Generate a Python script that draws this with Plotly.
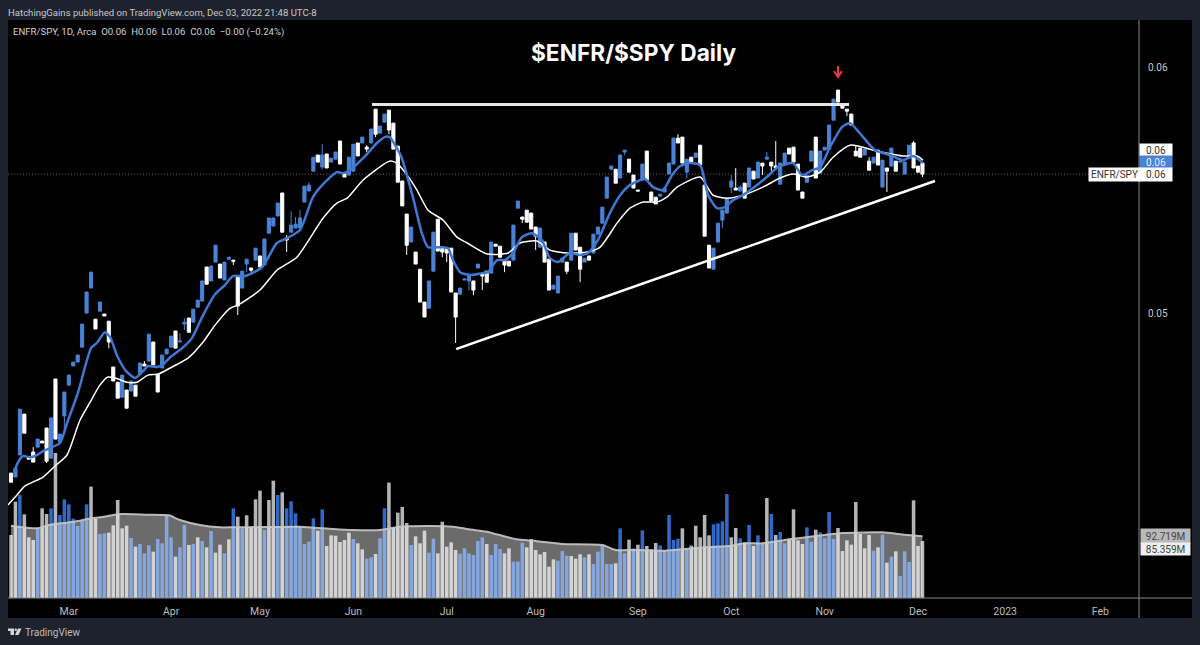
import plotly.graph_objects as go

# ENFR/SPY daily ratio, Feb 2022 to Dec 2022. Ratios are stored in units of 1e-5.
opens = [
    4347, 4331, 4421, 4588, 4412, 4433, 4453, 4478, 4531, 4408,
    4731, 4474, 4580, 4706, 4784, 4800, 4861, 5000, 5102, 4975,
    5008, 4996, 4967, 4780, 4718, 4657, 4686, 4682, 4706, 4751,
    4792, 4804, 4882, 4751, 4776, 4833, 4861, 4927, 4882, 4955,
    4980, 4963, 5024, 5049, 5188, 5131, 5208, 5200, 5135, 5220,
    5216, 5151, 5102, 5200, 5184, 5216, 5233, 5196, 5326, 5355,
    5396, 5490, 5306, 5330, 5347, 5347, 5453, 5498, 5579, 5645,
    5596, 5649, 5616, 5628, 5702, 5571, 5563, 5579, 5694, 5694,
    5677, 5694, 5832, 5734, 5779, 5828, 5775, 5681, 5539, 5404,
    5290, 5249, 5179, 5045, 5020, 5171, 5383, 5269, 5265, 5265,
    5082, 5077, 5135, 5131, 5131, 5184, 5159, 5171, 5163, 5281,
    5273, 5216, 5212, 5216, 5428, 5392, 5420, 5408, 5351, 5269,
    5290, 5220, 5098, 5082, 5208, 5208, 5216, 5326, 5269, 5208,
    5233, 5245, 5322, 5367, 5469, 5587, 5587, 5551, 5657, 5628,
    5563, 5502, 5543, 5661, 5494, 5473, 5477, 5494, 5567, 5608,
    5714, 5718, 5575, 5636, 5636, 5685, 5522, 5277, 5179, 5290,
    5379, 5408, 5514, 5510, 5498, 5530, 5514, 5579, 5551, 5612,
    5628, 5616, 5600, 5526, 5604, 5673, 5677, 5608, 5494, 5534,
    5620, 5718, 5571, 5665, 5669, 5787, 5910, 5845, 5832, 5812,
    5661, 5673, 5645, 5620, 5612, 5665, 5514, 5592, 5600, 5620,
    5616, 5567, 5632, 5694, 5600, 5612,
]
closes = [
    4310, 4368, 4608, 4510, 4404, 4392, 4486, 4470, 4396, 4572,
    4486, 4506, 4678, 4747, 4800, 4829, 4955, 5086, 5167, 4935,
    5045, 4988, 4882, 4723, 4653, 4747, 4612, 4723, 4661, 4796,
    4784, 4914, 4788, 4678, 4829, 4853, 4906, 4857, 4886, 4963,
    4922, 5016, 5053, 5131, 5118, 5192, 5277, 5143, 5208, 5228,
    5212, 5029, 5171, 5220, 5175, 5265, 5188, 5302, 5388, 5388,
    5449, 5330, 5298, 5359, 5363, 5388, 5518, 5522, 5636, 5616,
    5645, 5592, 5632, 5657, 5608, 5555, 5636, 5689, 5641, 5718,
    5669, 5751, 5730, 5763, 5812, 5747, 5669, 5534, 5437, 5277,
    5351, 5200, 5045, 4984, 5131, 5330, 5253, 5249, 5245, 5086,
    4984, 5102, 5139, 5159, 5094, 5200, 5151, 5126, 5290, 5273,
    5228, 5196, 5192, 5359, 5457, 5383, 5371, 5343, 5314, 5347,
    5208, 5094, 5114, 5151, 5224, 5171, 5326, 5257, 5179, 5224,
    5216, 5322, 5351, 5432, 5555, 5600, 5530, 5645, 5665, 5575,
    5510, 5498, 5608, 5543, 5457, 5445, 5485, 5510, 5612, 5714,
    5694, 5612, 5628, 5612, 5653, 5604, 5314, 5184, 5265, 5367,
    5420, 5469, 5539, 5502, 5514, 5469, 5592, 5547, 5616, 5600,
    5636, 5600, 5592, 5612, 5653, 5649, 5616, 5502, 5469, 5563,
    5661, 5551, 5661, 5677, 5767, 5873, 5861, 5836, 5824, 5767,
    5641, 5636, 5669, 5583, 5636, 5604, 5624, 5579, 5673, 5579,
    5620, 5616, 5685, 5592, 5575, 5567,
]
# Sessions whose wick reaches beyond the candle body.
upper_wicks = {5: 4453, 30: 4804, 38: 4918, 39: 4980, 62: 5318, 63: 5416, 64: 5392,
               65: 5420, 67: 5534, 70: 5689, 80: 5685, 150: 5730, 162: 5563, 163: 5592,
               164: 5522, 170: 5657, 172: 5702, 187: 5857, 190: 5681, 193: 5636, 203: 5702}
lower_wicks = {8: 4388, 12: 4523, 22: 4857, 39: 4931, 50: 5196, 51: 4992, 53: 5167,
               54: 5155, 62: 5249, 70: 5587, 80: 5657, 82: 5718, 85: 5730, 89: 5237,
               97: 5228, 98: 5208, 100: 4878, 103: 5094, 104: 5073, 106: 5094, 111: 5167,
               115: 5367, 118: 5257, 125: 5159, 128: 5126, 138: 5645, 152: 5551, 160: 5347,
               162: 5490, 169: 5563, 171: 5579, 172: 5583, 188: 5804, 197: 5494, 205: 5555}

# Daily volume in millions and its bar colour: b = blue, g = grey.
volumes = [
    94.5, 144.5, 154.5, 125.5, 91, 87, 104.5, 134.5, 126, 134.5,
    217.5, 124.5, 148, 140.5, 119, 108, 115.5, 140.5, 167, 119,
    96, 97, 98, 109, 147, 104.5, 108.5, 90, 77, 81,
    67, 79, 69.5, 88.5, 82, 124, 91, 62, 76, 109.5,
    79.5, 81, 91, 85.5, 76, 100.5, 68, 80, 67, 88,
    134.5, 122, 104.5, 124, 107, 148, 161, 102, 147, 176,
    154.5, 158.5, 134.5, 145, 127, 107, 81, 84.5, 119.5, 101,
    133, 78, 94, 93.5, 84, 87, 98, 88.5, 82, 73,
    59, 61, 66, 89.5, 134.5, 173, 105.5, 128, 136.5, 112.5,
    79.5, 92.5, 82, 101, 68, 89, 67, 114.5, 77, 83.5,
    72, 66.5, 74.5, 67, 64.5, 85.5, 91, 81, 64.5, 81,
    73.5, 67, 74.5, 54.5, 54.5, 83, 76, 88.5, 72, 65.5,
    69, 47, 58, 56, 70.5, 63.5, 63, 59, 65.5, 61,
    65.5, 51, 69.5, 79.5, 51, 51, 52, 104.5, 67, 87.5,
    74.5, 80, 101.5, 78, 73, 82.5, 79, 72, 124.5, 87,
    89, 104.5, 73, 78.5, 108.5, 91, 124.5, 94, 110.5, 112,
    115, 156, 91, 105, 89.5, 83.5, 109.5, 78, 94, 81,
    150, 126, 94.5, 99, 82, 89, 133, 86.5, 81, 106,
    84.5, 102.5, 98.5, 89.5, 129, 88.5, 105, 70.5, 86.5, 80,
    144, 96, 74.5, 94.5, 71, 76, 95, 53, 62, 70,
    33, 70, 54, 146.5, 78, 85.36,
]
volume_colors = (
    "ggbgggbggb" "gbbbbbbbgg" "bbgggggbgb" "bbgbbbbgbb" "gbgbgbggbg"
    "bgbggggbgg" "bgbbbbbbbg" "bggggggbgg" "bbgbbggggg" "bgggbbgggg"
    "gbbbbbbgbb" "bggbbbgggg" "gggbbbgggb" "gbbbbbgbbg" "bgbgggbbbb"
    "bgbgggggbb" "bbggbgbgbb" "gbgbbggggb" "bgbbbbgggg" "ggggbgbgbg"
    "bbbggg"
)

# Volume moving average, sampled at session numbers.
volume_ma_sessions = [0, 5.8, 8.5, 12.5, 15.5, 18, 20, 23, 25, 30.5, 35.5, 38, 42.5, 47,
                      50, 57.5, 65, 72.5, 77, 83, 87.5, 95, 99.5, 103, 107, 110.7, 113.7,
                      118, 124, 133, 136, 141, 147, 151, 156, 162, 165, 169, 174, 178,
                      183, 187, 196, 201, 205]
volume_ma = [108.5, 104.5, 109.5, 113, 116, 119.5, 121, 124.5, 126, 125, 124, 117, 109.5,
             106, 106, 106.5, 107, 103.5, 102, 102, 107, 108, 107, 103, 99.5, 93, 88,
             85.5, 81, 79.5, 72, 72, 71, 73, 76, 78.5, 82, 82, 87, 90.5, 94.5, 97.5,
             98.5, 95, 92.72]

# Fast moving average of the ratio.
fast_ma_sessions = [0.7, 1.6, 2.7, 4.3, 5.8, 7.2, 11, 12.6, 15.1, 18, 19.3, 21.1, 22.3, 23.8,
                    25.9, 27.9, 29.7, 30.8, 32.8, 34, 35.8, 38.5, 40.7, 43.2, 45.9, 48.1,
                    49.9, 52.6, 56.5, 59.8, 62.1, 65, 67.9, 70, 73.3, 74.7, 76.2, 79.2,
                    82.3, 84.1, 85.2, 86.4, 87.9, 90.4, 92.4, 93.8, 96.5, 98.3, 99.4, 101,
                    103.2, 105.9, 107.3, 109.3, 111.1, 112.9, 114.9, 117.2, 119.4, 121.2,
                    123, 125.7, 128, 129.8, 132, 134.7, 137, 139.2, 142.6, 144.4, 146.6,
                    148.7, 150.5, 152.7, 155, 156.8, 158.8, 160.6, 162.4, 164.6, 166.9,
                    170, 172.5, 175.9, 177.9, 180.2, 182, 184.2, 186.9, 188.7, 190.9,
                    194.3, 197.7, 200.6, 202.9, 205.1]
fast_ma = [4351, 4392, 4417, 4412, 4421, 4437, 4470, 4551, 4678, 4857, 4878, 4922, 4902, 4829,
           4763, 4735, 4763, 4784, 4780, 4788, 4820, 4857, 4898, 4992, 5077, 5114,
           5151, 5151, 5188, 5286, 5306, 5339, 5473, 5522, 5575, 5571, 5583, 5632,
           5694, 5718, 5718, 5685, 5632, 5473, 5326, 5269, 5269, 5265, 5216, 5167,
           5155, 5163, 5167, 5216, 5216, 5245, 5310, 5326, 5298, 5224,
           5208, 5245, 5237, 5245, 5298, 5408, 5481, 5522, 5547, 5514, 5502,
           5563, 5600, 5612, 5604, 5481, 5428, 5432, 5461, 5481, 5510,
           5555, 5596, 5612, 5563, 5583, 5596, 5677, 5759, 5775, 5734,
           5665, 5645, 5624, 5641, 5612]

# Slow moving average of the ratio.
slow_ma_sessions = [-0.7, 1.3, 3.1, 7.2, 9.9, 12.6, 15.5, 17.8, 20, 21.8, 23.4, 26.1, 28.3, 30.8,
                    33.1, 35.8, 39.8, 43.2, 45.9, 49.3, 51.1, 56, 59.8, 64.3, 70.2, 73.3,
                    75.6, 79.2, 84.6, 85.7, 87, 89.1, 91.3, 93.8, 97.2, 100.3, 102.6, 107.1,
                    111.8, 114.5, 118.3, 121.2, 125.1, 129.6, 132.5, 136.3, 139.2, 142.2,
                    145.3, 147.5, 149.8, 155, 157.9, 161, 164.6, 169.1, 173, 175.9, 179,
                    182, 184.9, 188.7, 194.8, 200.6, 203.8, 205.1]
slow_ma = [4217, 4257, 4294, 4331, 4376, 4421, 4563, 4637, 4706, 4739, 4735, 4718, 4718, 4747,
           4751, 4776, 4816, 4882, 4951, 5020, 5033, 5094, 5175, 5228, 5388, 5449,
           5469, 5543, 5616, 5620, 5608, 5563, 5502, 5420, 5379, 5310, 5286, 5241,
           5245, 5286, 5294, 5257, 5245, 5249, 5269, 5367, 5428, 5453,
           5453, 5473, 5514, 5555, 5481, 5469, 5481, 5514, 5551, 5567, 5555,
           5575, 5636, 5685, 5661, 5641, 5641, 5624]

# Hand-drawn resistance and support levels, and the marker above the November high.
resistance_sessions = [81.2, 188.5]
resistance_levels = [5851, 5851]
support_sessions = [100.1, 207.8]
support_levels = [4853, 5539]
arrow_sessions = [186, 186, None, 185.1, 186, 186.9]
arrow_levels = [6008, 5963, None, 5987, 5963, 5987]

month_sessions = [13, 36, 56, 77, 98, 118, 141, 162, 183, 204, 223.6, 245]
month_labels = ["Mar", "Apr", "May", "Jun", "Jul", "Aug", "Sep", "Oct", "Nov", "Dec", "2023", "Feb"]
price_ticks = [0.05, 0.06]
price_tick_labels = ["0.05", "0.06"]

UNIT = 1e-5
BLUE = "#4a82d6"
VOLUME_BLUE = "#2f68c6"
VOLUME_GREY = "#b4b4b4"
PAGE = "#1e222d"
AXIS_LINE = "#8a8a8a"
FONT = "Roboto, Inter, sans-serif"
TITLE_FONT = "Inter, Roboto, sans-serif"

sessions = list(range(len(opens)))
highs = [upper_wicks.get(i, max(o, c)) for i, (o, c) in enumerate(zip(opens, closes))]
lows = [lower_wicks.get(i, min(o, c)) for i, (o, c) in enumerate(zip(opens, closes))]


def scaled(values):
    return [None if v is None else v * UNIT for v in values]


# Page geometry of the plotting rectangle, used to place the furniture around it.
LEFT, RIGHT, TOP, BOTTOM = 8, 1139, 20, 598


def page_x(px):
    return (px - LEFT) / (RIGHT - LEFT)


def page_y(py):
    return (BOTTOM - py) / (BOTTOM - TOP)


fig = go.Figure()

fig.add_bar(
    x=sessions, y=volumes, width=0.8, yaxis="y",
    marker=dict(color=[VOLUME_BLUE if c == "b" else VOLUME_GREY for c in volume_colors], line_width=0),
)
fig.add_scatter(
    x=volume_ma_sessions, y=volume_ma, yaxis="y", mode="lines", fill="tozeroy",
    fillcolor="rgba(255,255,255,0.42)",
    line=dict(color="rgba(200,200,200,0.9)", width=2, shape="spline", smoothing=0.6),
)
fig.add_candlestick(
    x=sessions, open=scaled(opens), high=scaled(highs), low=scaled(lows), close=scaled(closes),
    yaxis="y2", whiskerwidth=0,
    increasing=dict(line=dict(color=BLUE, width=1), fillcolor=BLUE),
    decreasing=dict(line=dict(color="#ffffff", width=1), fillcolor="#ffffff"),
)
fig.add_scatter(
    x=slow_ma_sessions, y=scaled(slow_ma), yaxis="y2", mode="lines",
    line=dict(color="#ffffff", width=1.5, shape="spline", smoothing=0.6),
)
fig.add_scatter(
    x=fast_ma_sessions, y=scaled(fast_ma), yaxis="y2", mode="lines",
    line=dict(color="#3f78d2", width=2.5, shape="spline", smoothing=0.6),
)
fig.add_scatter(
    x=resistance_sessions, y=scaled(resistance_levels), yaxis="y2", mode="lines",
    line=dict(color="#e6e6e6", width=3),
)
fig.add_scatter(
    x=support_sessions, y=scaled(support_levels), yaxis="y2", mode="lines",
    line=dict(color="#ffffff", width=2.5),
)
fig.add_scatter(
    x=arrow_sessions, y=scaled(arrow_levels), yaxis="y2", mode="lines",
    line=dict(color="#f23645", width=2),
)

shapes = [
    # Black chart panel, reaching into the price and time scales.
    dict(type="rect", xref="paper", yref="paper", layer="below", line_width=0, fillcolor="#000000",
         x0=0, x1=page_x(1192), y0=page_y(618), y1=1),
    dict(type="line", xref="paper", yref="paper", line=dict(color=AXIS_LINE, width=1),
         x0=page_x(1139), x1=page_x(1139), y0=page_y(618), y1=1),
    dict(type="line", xref="paper", yref="paper", line=dict(color=AXIS_LINE, width=1),
         x0=0, x1=page_x(1192), y0=0, y1=0),
    # Dotted line at the last close.
    dict(type="line", xref="paper", yref="y2", layer="below", line=dict(color="#666666", width=1, dash="1px,2px"),
         x0=0, x1=1, y0=closes[-1] * UNIT, y1=closes[-1] * UNIT),
    # TradingView mark in the footer.
    dict(type="path", xref="paper", yref="paper", line_width=0, fillcolor="#d6d6d6",
         path=" ".join(f"{cmd} {page_x(a):.5f},{page_y(b):.5f}" for cmd, a, b in [
             ("M", 8, 628.5), ("L", 14, 628.5), ("L", 14, 635), ("L", 10.5, 635),
             ("L", 10.5, 631), ("L", 8, 631)]) + " Z"),
    dict(type="path", xref="paper", yref="paper", line_width=0, fillcolor="#d6d6d6",
         path=" ".join(f"{cmd} {page_x(a):.5f},{page_y(b):.5f}" for cmd, a, b in [
             ("M", 18, 628.5), ("L", 21.5, 628.5), ("L", 18.5, 635), ("L", 15, 635)]) + " Z"),
    dict(type="circle", xref="paper", yref="paper", line_width=0, fillcolor="#d6d6d6",
         x0=page_x(14.5), x1=page_x(17), y0=page_y(631), y1=page_y(628.5)),
]


def text(px, py, label, size, color="#d2d2d2", anchor="left", family=FONT):
    return dict(xref="paper", yref="paper", x=page_x(px), y=page_y(py), text=label, showarrow=False,
                xanchor=anchor, yanchor="middle", font=dict(family=family, size=size, color=color))


def box(x0, x1, y0, y1, label, fill, color):
    return dict(xref="paper", yref="paper", x=page_x(x0), y=page_y(y0), xanchor="left", yanchor="top",
                width=x1 - x0, height=y1 - y0, borderpad=0, bgcolor=fill, text=label, showarrow=False,
                align="center", font=dict(family=FONT, size=10, color=color))


annotations = [
    text(6, 12, "HatchingGains published on TradingView.com, Dec 03, 2022 21:48 UTC-8", 9.55, "#c8c8c8"),
    text(11, 32, "ENFR/SPY, 1D, Arca  O0.06  H0.06  L0.06  C0.06  −0.00 (−0.24%)", 9.6, "#d2d2d2"),
    text(633, 53, "<b>$ENFR/$SPY Daily</b>", 22.7, "#ffffff", anchor="center", family=TITLE_FONT),
    text(23, 632, "TradingView", 10, "#bdbdbd"),
    box(1139, 1171, 143, 155, "0.06", "#ffffff", "#333333"),
    box(1139, 1171, 155, 167.5, "0.06", BLUE, "#e8f0ff"),
    box(1139, 1171, 167.5, 180, "0.06", "#ffffff", "#333333"),
    box(1088, 1139, 167.5, 180, "ENFR/SPY", "#ffffff", "#333333"),
    box(1140, 1189, 528, 542, "92.719M", "#b9b9b9", "#444444"),
    box(1140, 1189, 542, 554, "85.359M", "#efefef", "#444444"),
]

fig.update_layout(
    width=1200, height=645, showlegend=False, hovermode=False,
    paper_bgcolor=PAGE, plot_bgcolor="#000000",
    margin=dict(l=LEFT, r=1200 - RIGHT, t=TOP, b=645 - BOTTOM, pad=0),
    boxgap=0.0,
    xaxis=dict(
        range=[-0.675, 253.7], showgrid=False, zeroline=False, rangeslider_visible=False,
        tickmode="array", tickvals=month_sessions, ticktext=month_labels,
        ticks="outside", ticklen=3, tickcolor="rgba(0,0,0,0)",
        tickfont=dict(family=FONT, size=10.5, color="#bdbdbd"),
    ),
    yaxis=dict(range=[0, 867], visible=False, fixedrange=True),
    yaxis2=dict(
        range=[0.038376, 0.061958], overlaying="y", side="right", showgrid=False, zeroline=False,
        tickmode="array", tickvals=price_ticks, ticktext=price_tick_labels,
        ticks="outside", ticklen=6, tickcolor="rgba(0,0,0,0)",
        tickfont=dict(family=FONT, size=10, color="#c8c8c8"),
    ),
    shapes=shapes, annotations=annotations,
)

fig.write_html("out.html", config=dict(displayModeBar=False))
